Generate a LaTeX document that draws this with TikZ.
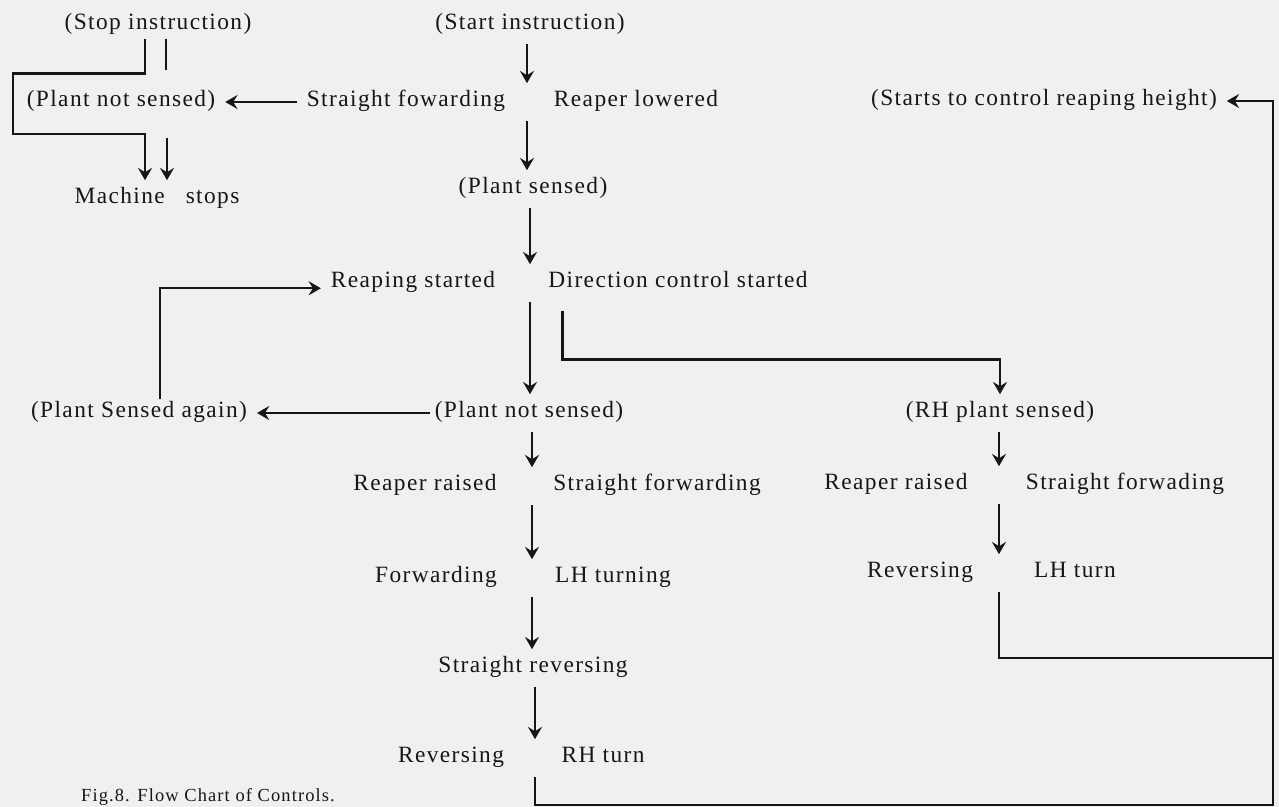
\documentclass[tikz,border=0pt]{standalone}
\usepackage{fontspec}
\setmainfont{Liberation Serif}[LetterSpace=6]
\usetikzlibrary{arrows.meta}

\definecolor{paper}{RGB}{240,240,240}
\definecolor{ink}{RGB}{22,22,22}

\begin{document}
\begin{tikzpicture}[
    x=0.02cm, y=-0.02cm,
    every node/.style={font=\fontsize{13.3}{16}\selectfont, text=ink},
    lbl/.style={inner sep=0.25em, text height=0.78em, text depth=0.22em},
    gap/.style={lbl, minimum width=2pt},   % empty slot between two labels of a row
    wire/.style={draw=ink, line width=1.3pt},
    arr/.style={wire, -{Stealth[length=7pt,width=8pt,inset=2.5pt]}, shorten <=3pt, shorten >=3pt}
]
\fill[paper] (0,0) rectangle (1279,807);
\useasboundingbox (0,0) rectangle (1279,807);

% top
\node[lbl] (stopi) at (158,25) {(Stop instruction)};
\node[lbl] (starti) at (530,25) {(Start instruction)};

\node[lbl] (pns1) at (121,102) {(Plant not sensed)};
\node[lbl] (sfw) at (406,102) {Straight fowarding};
\node[gap] (k1) at (527,102) {};
\node[lbl] (rlow) at (636,102) {Reaper lowered};
\node[lbl] (ctrlh) at (1044,101) {(Starts to control reaping height)};

\node[lbl] (psensed) at (533,189) {(Plant sensed)};
\node[lbl] (mstop) at (157,199) {Machine\hspace{0.9em}stops};

% reaping / direction control
\node[lbl] (rstart) at (413,283) {Reaping started};
\node[gap] (k3) at (530,283) {};
\node[lbl] (dirc) at (678,283) {Direction control started};

\node[lbl] (psa) at (139,413) {(Plant Sensed again)};
\node[lbl] (pns2) at (529,413) {(Plant not sensed)};
\node[lbl] (rhps) at (1000,413) {(RH plant sensed)};

% main column
\node[lbl] (rr1) at (425,486) {Reaper raised};
\node[gap] (k5) at (532,486) {};
\node[lbl] (sf2) at (657,486) {Straight forwarding};

\node[lbl] (fwd) at (436,578) {Forwarding};
\node[gap] (k6) at (532,578) {};
\node[lbl] (lht) at (613,578) {LH turning};

\node[lbl] (srev) at (533,668) {Straight reversing};

\node[lbl] (rev1) at (451,758) {Reversing};
\node[gap] (k8) at (535,758) {};
\node[lbl] (rht) at (603,758) {RH turn};

% right column
\node[lbl] (rr2) at (896,485) {Reaper raised};
\node[gap] (k5r) at (999,485) {};
\node[lbl] (sf3) at (1125,485) {Straight forwading};

\node[lbl] (rev2) at (920,573) {Reversing};
\node[gap] (k6r) at (999,573) {};
\node[lbl] (lhturn) at (1075,573) {LH turn};

\node[font=\fontsize{10.5}{12}\selectfont] (cap) at (208,797) {Fig.8. Flow Chart of Controls.};

\coordinate (lp) at (13,134);
\coordinate (tj) at (1273,658);
\coordinate (br) at (1273,805);

% connectors
\draw[arr] (starti.south -| k1) -- (k1.north);
\draw[arr] (k1.south) -- (psensed.north -| k1);
\draw[arr] (psensed.south -| k3) -- (k3.north);
\draw[arr] (k3.south) -- (pns2.north -| k3);
\draw[arr] (pns2.south -| k5) -- (k5.north);
\draw[arr] (k5.south) -- (k6.north);
\draw[arr] (k6.south) -- (srev.north -| k6);
\draw[arr] (srev.south -| k8) -- (k8.north);

\draw[arr] (sfw.west) -- (pns1.east);
\draw[arr, shorten <=0pt] (pns2.west) -- (psa.east);
\draw[arr, shorten <=0pt] ([xshift=0.42cm]psa.north) |- ([yshift=-3pt]rstart.west);

\draw[arr, shorten <=0pt] ([xshift=-0.26cm]stopi.south) -- ++(0,35) -| (lp) -| ([xshift=-0.24cm]mstop.north);
\draw[wire] ([xshift=0.16cm]stopi.south) -- ++(0,31);
\draw[arr, shorten <=0pt] ([xshift=0.2cm]mstop.north) ++(0,-47) -- ++(0,47);

\draw[arr, shorten <=0pt] ([xshift=0.38cm,yshift=-8pt]dirc.south west) -- ++(0,49) -| (rhps.north);
\draw[arr] (rhps.south -| k5r) -- (k5r.north);
\draw[arr] (k5r.south) -- (k6r.north);
\draw[wire, shorten <=3pt] (k6r.south) |- (tj);

\draw[arr] (k8.south) |- (br) |- (ctrlh.east);
\end{tikzpicture}
\end{document}
